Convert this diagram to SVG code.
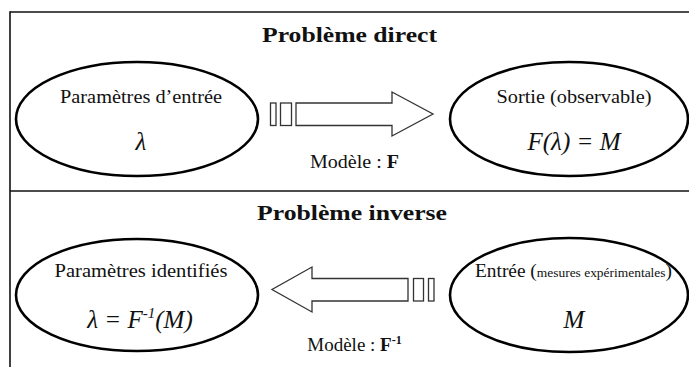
<svg xmlns="http://www.w3.org/2000/svg" width="689" height="367" viewBox="0 0 689 367">
<style>
.frame{stroke:#111;stroke-width:1.6;fill:none}
.ell{fill:#fff;stroke:#000;stroke-width:2.6}
.arr{fill:#fff;stroke:#333;stroke-width:1.3}
.t{font-family:"Liberation Serif",serif;fill:#111;text-anchor:middle}
.title{font-weight:bold;font-size:22px}
.lab{font-size:18px}
.math{font-style:italic;font-size:25px}
.small{font-size:12.5px}
.mod{font-size:19px}
</style>
<rect width="689" height="367" fill="#fff"/>
<g id="frame">
<line class="frame" x1="10" y1="12" x2="689" y2="12"/>
<line class="frame" x1="10" y1="191" x2="689" y2="191"/>
<line class="frame" x1="10" y1="11.2" x2="10" y2="367"/>
</g>
<text class="t title" x="349.5" y="42" textLength="175" lengthAdjust="spacingAndGlyphs">Problème direct</text>
<text class="t title" x="352" y="220" textLength="190" lengthAdjust="spacingAndGlyphs">Problème inverse</text>
<g id="n-entree">
<ellipse class="ell" cx="137" cy="119" rx="121" ry="57"/>
<text class="t lab" x="141" y="103" textLength="162" lengthAdjust="spacingAndGlyphs">Paramètres d’entrée</text>
<text class="t math" x="141" y="150">λ</text>
</g>
<g id="n-sortie">
<ellipse class="ell" cx="569" cy="119" rx="119" ry="57"/>
<text class="t lab" x="574" y="103" textLength="155" lengthAdjust="spacingAndGlyphs">Sortie (observable)</text>
<text class="t math" x="574" y="150">F(λ) = M</text>
</g>
<g id="n-identifies">
<ellipse class="ell" cx="137" cy="295" rx="121" ry="56"/>
<text class="t lab" x="141" y="277" textLength="173" lengthAdjust="spacingAndGlyphs">Paramètres identifiés</text>
<text class="t math" x="140" y="328">λ = F<tspan font-size="15" dy="-10">-1</tspan><tspan dy="10">(M)</tspan></text>
</g>
<g id="n-mesures">
<ellipse class="ell" cx="569" cy="295" rx="119" ry="57"/>
<text class="t lab" x="573.5" y="277" font-size="19" textLength="197" lengthAdjust="spacingAndGlyphs">Entrée (<tspan class="small">mesures expérimentales</tspan>)</text>
<text class="t math" x="574" y="328">M</text>
</g>
<g id="connectors">
<rect class="arr" x="270.5" y="103" width="5.5" height="22.5"/>
<rect class="arr" x="280.5" y="103" width="11" height="22.5"/>
<polygon class="arr" points="296,103 392,103 392,92 433,114 392,136 392,125.5 296,125.5"/>
<text class="t mod" x="354.5" y="168" textLength="89" lengthAdjust="spacingAndGlyphs">Modèle : <tspan font-weight="bold">F</tspan></text>
<rect class="arr" x="428.5" y="278.5" width="5.5" height="22.5"/>
<rect class="arr" x="413.5" y="278.5" width="10" height="22.5"/>
<polygon class="arr" points="408,278.5 312,278.5 312,267 272,289.5 312,312 312,301 408,301"/>
<text class="t mod" x="354.5" y="351">Modèle : <tspan font-weight="bold">F<tspan font-size="12" dy="-7">-1</tspan></tspan></text>
</g>
</svg>
